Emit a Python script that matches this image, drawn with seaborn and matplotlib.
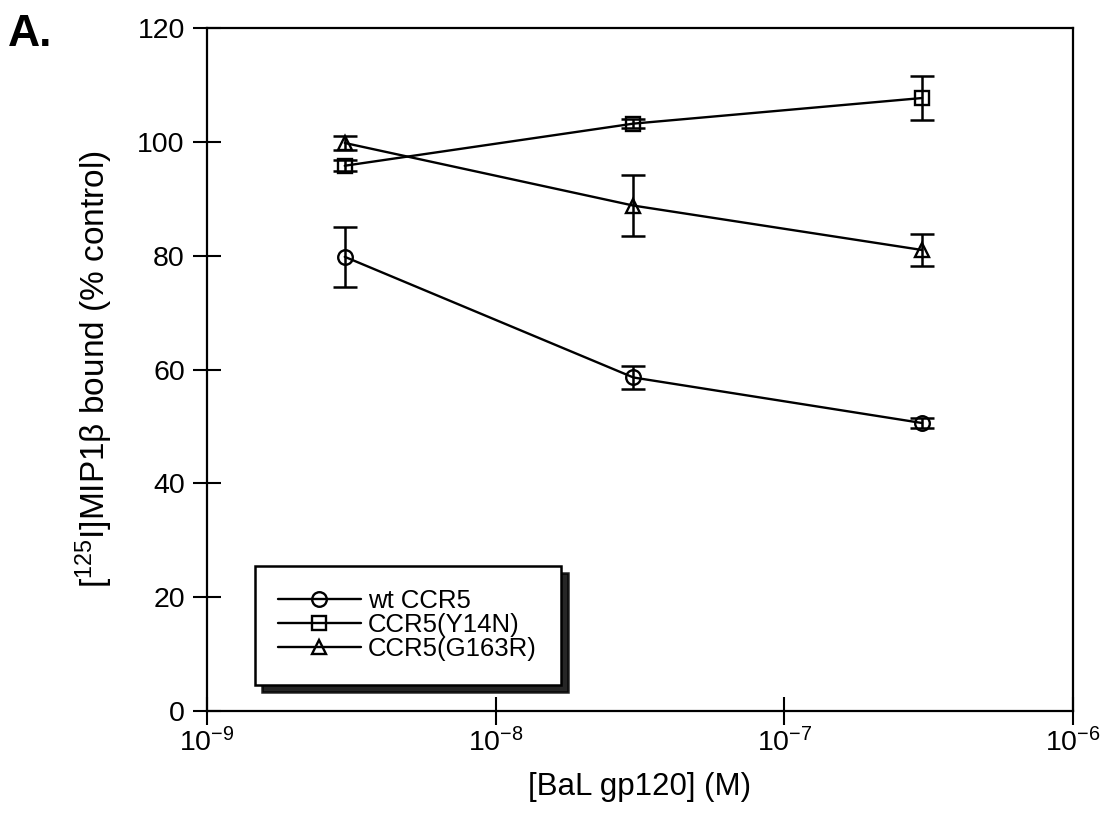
import numpy as np
import pandas as pd
import matplotlib
matplotlib.use("Agg")
import matplotlib.pyplot as plt
import seaborn as sns

# gp120 concentrations (M)
conc = [3e-9, 3e-8, 3e-7]
series = ["wt CCR5", "CCR5(Y14N)", "CCR5(G163R)"]
wt_mean = [79.8, 58.6, 50.6]
wt_err = [5.3, 2.0, 0.8]
y14n_mean = [95.8, 103.2, 107.7]
y14n_err = [1.0, 0.8, 3.9]
g163r_mean = [99.8, 88.8, 81.0]
g163r_err = [1.2, 5.4, 2.8]

means = [wt_mean, y14n_mean, g163r_mean]
errs = [wt_err, y14n_err, g163r_err]
markers = ["o", "s", "^"]

df = pd.DataFrame({
    "conc": np.tile(conc, 3),
    "bound": np.concatenate(means),
    "err": np.concatenate(errs),
    "receptor": np.repeat(series, 3),
})

sns.set_theme(style="ticks")
plt.rcParams["font.family"] = ["Liberation Sans", "DejaVu Sans"]
plt.rcParams["mathtext.fontset"] = "custom"
plt.rcParams["mathtext.rm"] = "Liberation Sans"
plt.rcParams["mathtext.default"] = "regular"
for key in ["text.color", "axes.labelcolor", "xtick.color", "ytick.color",
            "axes.edgecolor"]:
    plt.rcParams[key] = "black"

fig = plt.figure(figsize=(11.1, 8.14), dpi=100)
ax = fig.add_axes([0.1865, 0.1265, 0.7802, 0.8391])

sns.lineplot(data=df, x="conc", y="bound", hue="receptor", style="receptor",
             markers=dict(zip(series, markers)), dashes=False,
             palette=["black"] * 3, markersize=10.5, markerfacecolor="none",
             markeredgecolor="black", markeredgewidth=1.7, linewidth=1.7,
             ax=ax, legend=False, zorder=3)

for name in series:
    sub = df[df["receptor"] == name]
    ax.errorbar(sub["conc"], sub["bound"], yerr=sub["err"], fmt="none",
                ecolor="black", elinewidth=1.8, capsize=8.5, capthick=1.8, zorder=2)

ax.set_xscale("log")
ax.set_xlim(1e-9, 1e-6)
ax.set_ylim(0, 120)
ax.set_yticks([0, 20, 40, 60, 80, 100, 120])
ax.set_xticks([1e-9, 1e-8, 1e-7, 1e-6])
ax.set_xticklabels(["$10^{-9}$", "$10^{-8}$", "$10^{-7}$", "$10^{-6}$"])
ax.minorticks_off()
ax.tick_params(axis="both", direction="inout", length=20, width=1.5,
               labelsize=20.5, color="black")
ax.tick_params(axis="y", pad=6)
ax.tick_params(axis="x", pad=2)
for s in ax.spines.values():
    s.set_linewidth(1.6)
    s.set_color("black")

ax.set_xlabel("[BaL gp120] (M)", fontsize=22.5, labelpad=11)
ax.set_ylabel("[$^{125}$I]MIP1β bound (% control)", fontsize=24, labelpad=16)

handles = [plt.Line2D([], [], color="black", lw=1.7, marker=m, markersize=10.5,
                      markerfacecolor="none", markeredgewidth=1.7)
           for m in markers]
leg = ax.legend(handles, series, loc="lower left", bbox_to_anchor=(0.055, 0.038),
                borderaxespad=0, fontsize=18.5, frameon=True, fancybox=False,
                handlelength=3.2, handletextpad=0.3, borderpad=0.92,
                labelspacing=0.0,
                shadow={"color": "black", "alpha": 0.85, "ox": 5, "oy": -5})
leg.get_frame().set_edgecolor("black")
leg.get_frame().set_linewidth(1.8)
leg.get_frame().set_facecolor("white")
leg.get_frame().set_alpha(1)

fig.text(0.007, 0.943, "A.", fontsize=32, fontweight="bold")

fig.savefig("out.png", dpi=100, facecolor="white")
